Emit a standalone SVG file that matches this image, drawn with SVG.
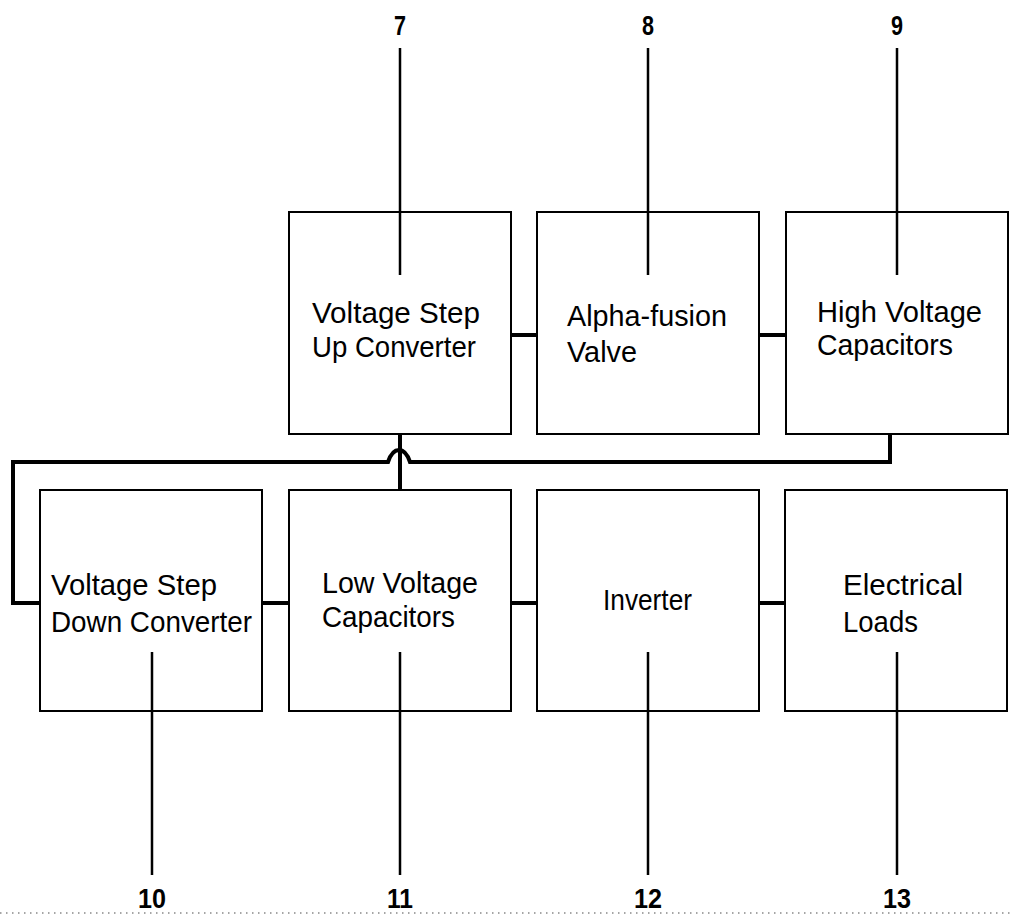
<svg xmlns="http://www.w3.org/2000/svg" width="1011" height="915" viewBox="0 0 1011 915">
<style>
.box{fill:#fff;stroke:#000;stroke-width:2}
.t{font-family:"Liberation Sans",Arial,sans-serif;font-size:29px;fill:#000}
.n{font-family:"Liberation Sans",Arial,sans-serif;font-size:28px;font-weight:bold;fill:#000;text-anchor:middle}
.lead{stroke:#000;stroke-width:2.5;fill:none}
.wire{stroke:#000;stroke-width:4;fill:none}
</style>
<rect width="1011" height="915" fill="#fff"/>
<g id="connectors">
<path class="wire" d="M511 335H537M759 335H786M262 603H289M511 603H537M759 603H785"/>
<path class="wire" d="M400 434V490"/>
<path class="wire" d="M890 434V462H410Q406 450 399 450Q392 450 388 462H13V603H40"/>
</g>
<g id="n7">
<rect class="box" x="289" y="212" width="222" height="222"/>
<text class="t" x="312" y="323" textLength="168" lengthAdjust="spacingAndGlyphs">Voltage Step</text>
<text class="t" x="312" y="357" textLength="164" lengthAdjust="spacingAndGlyphs">Up Converter</text>
</g>
<g id="n8">
<rect class="box" x="537" y="212" width="222" height="222"/>
<text class="t" x="567" y="326" textLength="160" lengthAdjust="spacingAndGlyphs">Alpha-fusion</text>
<text class="t" x="567" y="362" textLength="70" lengthAdjust="spacingAndGlyphs">Valve</text>
</g>
<g id="n9">
<rect class="box" x="786" y="212" width="222" height="222"/>
<text class="t" x="817" y="322" textLength="165" lengthAdjust="spacingAndGlyphs">High Voltage</text>
<text class="t" x="817" y="355" textLength="136" lengthAdjust="spacingAndGlyphs">Capacitors</text>
</g>
<g id="n10">
<rect class="box" x="40" y="490" width="222" height="221"/>
<text class="t" x="51" y="595" textLength="166" lengthAdjust="spacingAndGlyphs">Voltage Step</text>
<text class="t" x="51" y="632" textLength="201" lengthAdjust="spacingAndGlyphs">Down Converter</text>
</g>
<g id="n11">
<rect class="box" x="289" y="490" width="222" height="221"/>
<text class="t" x="322" y="593" textLength="156" lengthAdjust="spacingAndGlyphs">Low Voltage</text>
<text class="t" x="322" y="627" textLength="133" lengthAdjust="spacingAndGlyphs">Capacitors</text>
</g>
<g id="n12">
<rect class="box" x="537" y="490" width="222" height="221"/>
<text class="t" x="603" y="610" textLength="89" lengthAdjust="spacingAndGlyphs">Inverter</text>
</g>
<g id="n13">
<rect class="box" x="785" y="490" width="222" height="221"/>
<text class="t" x="843" y="595" textLength="120" lengthAdjust="spacingAndGlyphs">Electrical</text>
<text class="t" x="843" y="632" textLength="75" lengthAdjust="spacingAndGlyphs">Loads</text>
</g>
<g id="leaders">
<path class="lead" d="M400 48V275M648 48V275M897 48V275M152 652V875M400 652V875M648 652V875M897 652V875"/>
</g>
<g id="labels">
<text class="n" x="400" y="35" textLength="12" lengthAdjust="spacingAndGlyphs">7</text>
<text class="n" x="648" y="35" textLength="12" lengthAdjust="spacingAndGlyphs">8</text>
<text class="n" x="897" y="35" textLength="12" lengthAdjust="spacingAndGlyphs">9</text>
<text class="n" x="152" y="908" textLength="28" lengthAdjust="spacingAndGlyphs">10</text>
<text class="n" x="400" y="908" textLength="26" lengthAdjust="spacingAndGlyphs">11</text>
<text class="n" x="648" y="908" textLength="28" lengthAdjust="spacingAndGlyphs">12</text>
<text class="n" x="897" y="908" textLength="28" lengthAdjust="spacingAndGlyphs">13</text>
</g>
<line x1="0" y1="913" x2="1011" y2="913" stroke="#888" stroke-width="1.5" stroke-dasharray="1.5 4.5"/>
</svg>
